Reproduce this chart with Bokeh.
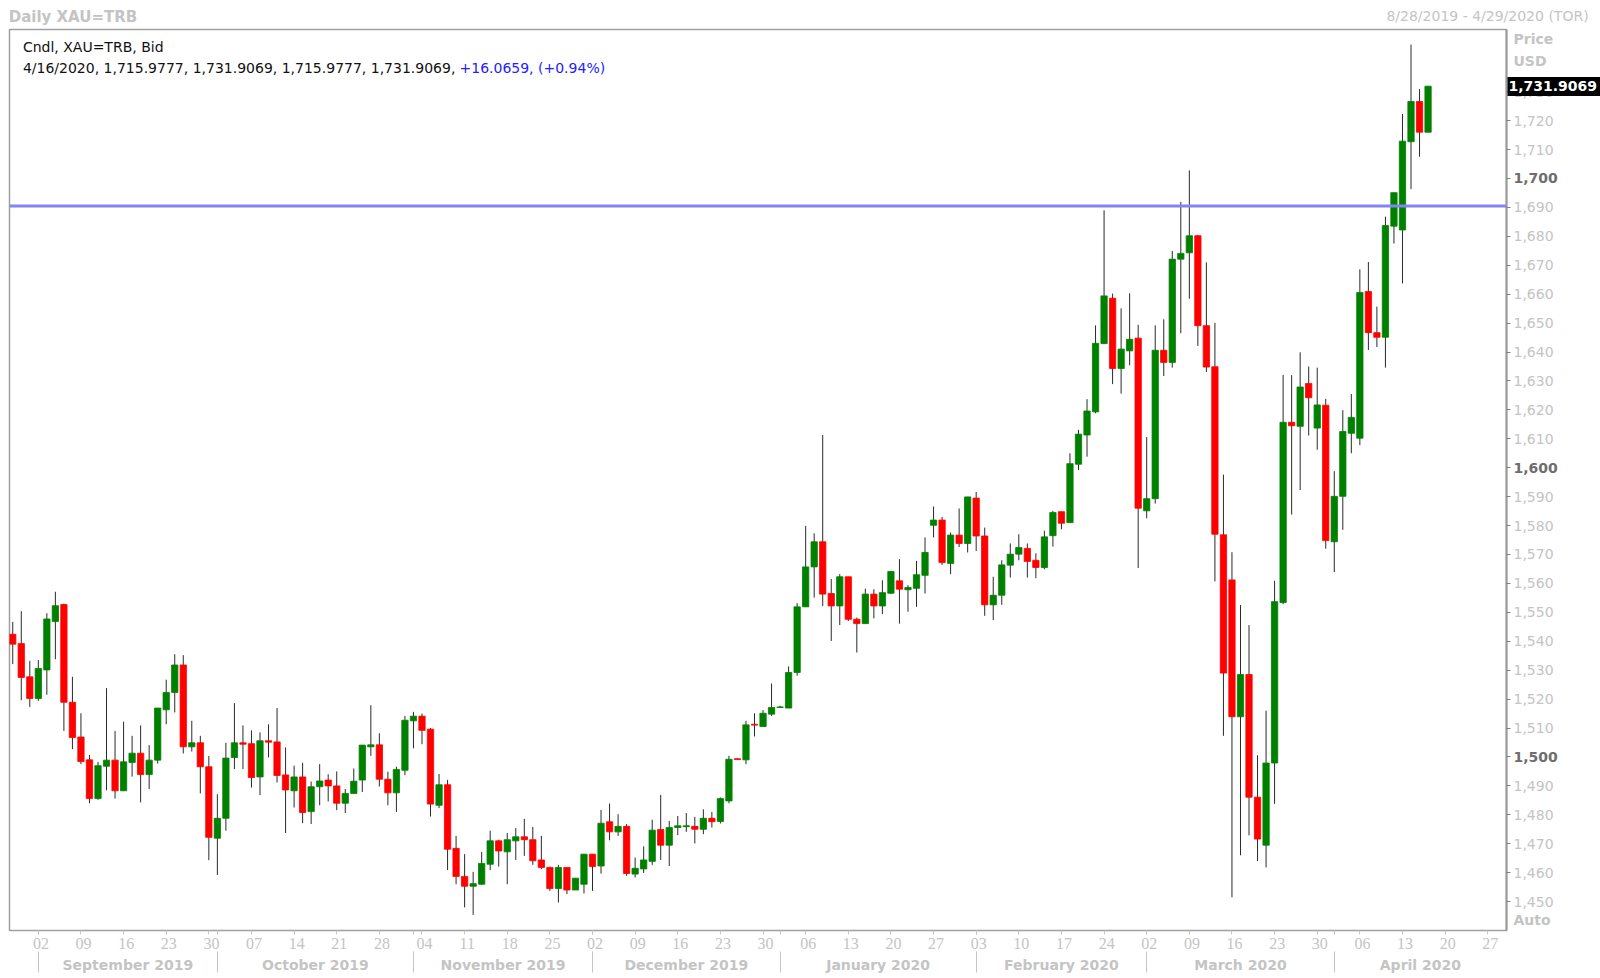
import pandas as pd
from bokeh.plotting import figure
from bokeh.models import ColumnDataSource, FixedTicker, LinearAxis, Range1d, Label, Span
from bokeh.embed import file_html
from bokeh.resources import INLINE

# ---------------- data ----------------
calendar_start = "2019-08-28"
calendar_end = "2020-04-29"

opens = [1542.4, 1539.2, 1527.7, 1520.2, 1530.1, 1546.8, 1552.7, 1518.9, 1506.9, 1499.0,
         1485.6, 1496.8, 1498.9, 1488.3, 1498.1, 1501.3, 1493.9, 1498.9, 1516.3, 1522.3,
         1531.8, 1503.5, 1504.9, 1496.6, 1471.9, 1478.8, 1499.8, 1504.9, 1504.6, 1493.1,
         1505.6, 1505.2, 1493.8, 1488.3, 1493.1, 1481.1, 1489.7, 1492.0, 1490.0, 1484.0,
         1487.4, 1492.0, 1503.5, 1504.2, 1492.3, 1487.6, 1495.4, 1512.5, 1514.1, 1509.6,
         1483.3, 1490.4, 1468.4, 1458.7, 1455.3, 1456.0, 1462.9, 1471.0, 1467.2, 1471.0,
         1472.4, 1471.4, 1464.4, 1461.8, 1454.5, 1461.8, 1454.0, 1456.0, 1466.4, 1462.3,
         1477.6, 1474.1, 1476.0, 1459.5, 1461.3, 1463.9, 1474.9, 1469.5, 1475.6, 1475.9,
         1476.0, 1475.0, 1478.8, 1477.7, 1484.8, 1499.4, 1499.0, 1511.3, 1510.5, 1514.8,
         1517.1, 1516.9, 1529.2, 1551.9, 1565.7, 1574.4, 1556.5, 1552.2, 1562.3, 1547.6,
         1546.1, 1556.3, 1552.2, 1556.6, 1560.9, 1557.8, 1558.3, 1562.8, 1580.1, 1581.9,
         1566.9, 1576.7, 1573.8, 1589.5, 1576.4, 1552.6, 1555.9, 1566.3, 1570.1, 1572.1,
         1568.0, 1565.5, 1576.5, 1584.8, 1581.0, 1601.2, 1611.3, 1619.3, 1642.9, 1658.6,
         1634.3, 1640.4, 1644.8, 1585.1, 1589.3, 1640.6, 1636.4, 1672.1, 1674.3, 1680.2,
         1649.1, 1634.9, 1576.8, 1561.2, 1513.9, 1528.5, 1486.1, 1469.5, 1497.9, 1553.4,
         1615.7, 1614.3, 1629.1, 1613.7, 1621.6, 1574.4, 1590.1, 1611.9, 1610.2, 1660.9,
         1646.7, 1645.1, 1683.5, 1682.2, 1712.7, 1726.6, 1715.9777]
highs = [1546.7, 1550.4, 1533.2, 1533.5, 1549.7, 1557.1, 1553.0, 1527.7, 1515.1, 1500.7,
         1498.3, 1523.8, 1509.0, 1512.2, 1507.3, 1510.9, 1504.1, 1516.9, 1526.7, 1535.5,
         1535.2, 1512.5, 1507.3, 1500.3, 1487.1, 1504.9, 1518.6, 1510.9, 1509.2, 1508.5,
         1511.3, 1516.9, 1503.3, 1497.0, 1498.0, 1491.5, 1497.5, 1494.0, 1495.0, 1488.9,
         1496.0, 1504.1, 1517.9, 1508.2, 1494.9, 1496.6, 1514.2, 1515.6, 1515.0, 1510.0,
         1494.1, 1492.1, 1472.7, 1466.4, 1460.3, 1467.2, 1474.5, 1471.4, 1473.7, 1475.4,
         1478.6, 1475.8, 1472.7, 1462.1, 1462.7, 1461.8, 1458.1, 1466.4, 1466.4, 1481.7,
         1483.9, 1480.2, 1476.8, 1465.2, 1469.1, 1478.3, 1486.9, 1477.9, 1479.6, 1480.6,
         1479.3, 1481.9, 1481.0, 1486.0, 1500.4, 1499.4, 1512.5, 1515.1, 1516.2, 1525.4,
         1517.7, 1531.3, 1553.2, 1579.9, 1577.3, 1611.3, 1561.5, 1563.2, 1562.3, 1548.2,
         1558.2, 1558.0, 1561.1, 1564.3, 1568.4, 1559.4, 1567.8, 1575.9, 1586.6, 1583.0,
         1577.6, 1585.9, 1589.9, 1591.6, 1579.3, 1562.3, 1568.0, 1573.8, 1577.0, 1573.8,
         1570.4, 1578.2, 1585.1, 1584.8, 1605.0, 1613.1, 1623.7, 1649.2, 1689.0, 1660.2,
         1655.1, 1660.3, 1649.4, 1610.6, 1649.2, 1651.3, 1674.9, 1691.9, 1702.8, 1680.5,
         1671.0, 1650.1, 1597.6, 1570.8, 1552.5, 1545.6, 1500.6, 1516.0, 1560.9, 1632.1,
         1632.0, 1639.9, 1635.0, 1634.6, 1623.8, 1598.8, 1619.9, 1625.5, 1668.6, 1671.1,
         1655.7, 1686.8, 1695.1, 1722.3, 1746.3, 1730.9, 1731.9069]
lows = [1532.1, 1519.6, 1517.3, 1519.4, 1521.5, 1533.8, 1509.0, 1502.7, 1497.5, 1484.0,
        1485.2, 1488.5, 1485.6, 1488.3, 1493.2, 1484.3, 1488.9, 1497.7, 1511.3, 1515.4,
        1501.2, 1501.9, 1487.4, 1464.3, 1459.2, 1474.5, 1495.8, 1495.8, 1489.4, 1486.8,
        1499.8, 1491.2, 1473.7, 1482.5, 1477.1, 1476.8, 1483.3, 1484.6, 1481.6, 1480.6,
        1487.4, 1487.9, 1500.4, 1489.8, 1483.3, 1481.0, 1493.7, 1503.0, 1504.4, 1479.4,
        1482.3, 1460.9, 1456.0, 1448.0, 1445.4, 1455.7, 1460.9, 1462.1, 1456.0, 1464.4,
        1465.8, 1462.7, 1461.2, 1453.7, 1449.7, 1452.6, 1454.0, 1452.8, 1453.7, 1459.7,
        1471.2, 1472.7, 1458.9, 1458.3, 1459.9, 1462.7, 1464.4, 1462.3, 1473.0, 1474.1,
        1470.1, 1473.3, 1475.6, 1477.0, 1484.0, 1499.1, 1497.5, 1507.1, 1510.5, 1514.2,
        1516.9, 1516.9, 1528.1, 1551.9, 1555.1, 1552.2, 1540.1, 1545.6, 1547.0, 1536.1,
        1546.1, 1547.9, 1549.4, 1556.3, 1546.1, 1550.2, 1551.9, 1556.5, 1575.9, 1566.4,
        1563.2, 1572.6, 1570.7, 1571.2, 1548.8, 1547.3, 1552.6, 1562.0, 1568.0, 1562.0,
        1561.8, 1564.9, 1572.7, 1578.7, 1581.0, 1599.2, 1603.8, 1618.8, 1642.9, 1628.9,
        1625.6, 1635.4, 1565.3, 1582.5, 1587.6, 1631.7, 1634.6, 1646.5, 1658.4, 1642.1,
        1633.1, 1560.7, 1507.3, 1451.5, 1466.0, 1472.9, 1464.0, 1461.8, 1483.8, 1552.8,
        1583.8, 1592.3, 1611.1, 1606.2, 1572.0, 1563.9, 1578.5, 1605.0, 1607.8, 1640.7,
        1641.7, 1634.6, 1677.5, 1663.7, 1696.3, 1707.5, 1715.9777]
closes = [1539.0, 1527.5, 1520.2, 1530.6, 1547.7, 1552.3, 1518.9, 1506.7, 1498.4, 1485.6,
          1497.0, 1498.9, 1488.3, 1498.3, 1501.3, 1493.9, 1498.9, 1516.9, 1522.3, 1531.8,
          1503.5, 1504.9, 1496.6, 1472.2, 1478.8, 1499.6, 1504.9, 1504.4, 1492.9, 1505.6,
          1505.1, 1493.6, 1488.6, 1493.1, 1480.8, 1489.7, 1491.7, 1490.0, 1484.0, 1487.4,
          1491.6, 1504.1, 1504.2, 1492.3, 1487.6, 1495.7, 1512.7, 1514.1, 1509.2, 1483.7,
          1490.4, 1468.1, 1458.7, 1455.3, 1456.2, 1463.2, 1471.0, 1467.5, 1471.4, 1472.4,
          1471.4, 1464.1, 1461.8, 1454.5, 1461.8, 1454.0, 1458.1, 1466.4, 1462.1, 1477.1,
          1474.1, 1476.0, 1459.7, 1461.5, 1464.4, 1474.7, 1469.5, 1475.6, 1476.2, 1476.2,
          1475.0, 1478.8, 1477.6, 1485.6, 1499.2, 1499.1, 1511.1, 1511.0, 1515.1, 1517.1,
          1517.3, 1529.2, 1551.9, 1565.7, 1574.4, 1556.3, 1552.2, 1562.3, 1547.6, 1546.1,
          1556.3, 1552.2, 1556.8, 1564.1, 1558.0, 1558.6, 1563.0, 1570.7, 1581.9, 1567.2,
          1576.7, 1573.8, 1589.9, 1576.4, 1552.6, 1555.9, 1566.4, 1570.1, 1572.4, 1567.6,
          1565.5, 1576.1, 1584.5, 1580.8, 1601.4, 1611.6, 1619.6, 1643.0, 1659.4, 1634.3,
          1641.0, 1644.4, 1586.0, 1589.3, 1640.6, 1636.4, 1672.1, 1674.1, 1680.2, 1649.1,
          1634.8, 1577.0, 1529.0, 1513.9, 1528.5, 1486.1, 1471.6, 1497.9, 1553.7, 1615.7,
          1614.5, 1627.9, 1624.2, 1621.7, 1574.8, 1590.1, 1612.5, 1617.4, 1660.6, 1646.7,
          1645.1, 1683.7, 1695.1, 1712.9, 1726.6, 1716.0, 1731.9069]

month_names = {9: "September 2019", 10: "October 2019", 11: "November 2019",
               12: "December 2019", 1: "January 2020", 2: "February 2020",
               3: "March 2020", 4: "April 2020"}
price_ticks = list(range(1450, 1740, 10))
bold_ticks = [1500, 1600, 1700]
resistance_level = 1690.5
last_price = 1731.9069

title_text = "Daily XAU=TRB"
range_text = "8/28/2019 - 4/29/2020 (TOR)"
side_texts = ["Price", "USD", "Auto"]
side_levels = [1748.3, 1740.5, 1443.6]
header_line1 = "Cndl, XAU=TRB, Bid"
header_values = "4/16/2020, 1,715.9777, 1,731.9069, 1,715.9777, 1,731.9069,"
header_change = "+16.0659, (+0.94%)"

# ---------------- layout constants ----------------
W, H = 1600, 978
BL, BR, BT, BB = 9, 93, 29, 48
FW, FH = W - BL - BR, H - BT - BB

LIGHT = "#c4c4c4"
MID = "#6e6e6e"
FONT = "DejaVu Sans"

days = pd.bdate_range(calendar_start, calendar_end)
x_start, x_end = -0.38, len(days) - 0.8
y_start, y_end = 1440, 1751.5
xs = list(range(len(opens)))
px_per_x = FW / (x_end - x_start)

mondays = [i for i, d in enumerate(days) if d.weekday() == 0]
label_shift = 0.3
day_label_pos = [round(m + label_shift, 3) for m in mondays]
day_labels = {pos: f"{days[m].day:02d}" for pos, m in zip(day_label_pos, mondays)}
month_starts = [i for i in range(1, len(days)) if days[i].month != days[i - 1].month]
month_centers = []
month_label_map = {}
for k, s in enumerate(month_starts):
    e = month_starts[k + 1] if k + 1 < len(month_starts) else x_end
    c = round((s + e) / 2.0, 3)
    month_centers.append(c)
    month_label_map[c] = month_names[days[s].month]

up = [c >= o for o, c in zip(opens, closes)]
src = ColumnDataSource(dict(
    x=xs,
    top=[max(o, c) for o, c in zip(opens, closes)],
    bottom=[min(o, c) for o, c in zip(opens, closes)],
    high=highs, low=lows,
    color=["#008000" if u else "#ff0000" for u in up],
))

p = figure(width=W, height=H, x_range=Range1d(x_start, x_end), y_range=Range1d(y_start, y_end),
           y_axis_location="right", output_backend="svg", toolbar_location=None,
           min_border_left=BL, min_border_right=BR, min_border_top=BT, min_border_bottom=BB,
           background_fill_color="white", border_fill_color="white")
p.grid.visible = False
p.outline_line_color = "#a0a0a0"
p.outline_line_width = 1.5

p.add_layout(Span(location=resistance_level, dimension="width", line_color="#8484f4", line_width=3))

p.segment(x0="x", y0="low", x1="x", y1="high", line_color="#2a2a2a", line_width=1, source=src)
p.vbar(x="x", width=0.74, top="top", bottom="bottom", fill_color="color",
       line_color="color", line_width=0.8, source=src)


def quiet(ax):
    ax.axis_line_color = None
    ax.major_tick_line_color = None
    ax.minor_tick_line_color = None
    ax.major_tick_in = 0
    ax.major_tick_out = 0
    ax.minor_tick_in = 0
    ax.minor_tick_out = 0
    return ax


def text_style(ax, color, size, bold):
    ax.major_label_text_color = color
    ax.major_label_text_font = FONT
    ax.major_label_text_font_size = size
    ax.major_label_text_font_style = "bold" if bold else "normal"


# --- right side: axes stacked outward; negative standoffs pull labels back next to the frame
MAIN_W = 50   # measured width of the main price axis
BOLD_W = 4    # measured width left by the bold-hundreds axis

ya = p.yaxis[0]
ya.ticker = FixedTicker(ticks=price_ticks, minor_ticks=[])
ya.major_label_overrides = {t: ("" if t in bold_ticks else f"{t:,}") for t in price_ticks}
text_style(ya, LIGHT, "14px", False)
ya.major_label_standoff = 3
ya.major_tick_out = 4
ya.major_tick_in = 0
ya.major_tick_line_color = "#808080"
ya.minor_tick_line_color = None
ya.axis_line_color = "#9a9a9a"
ya.axis_line_width = 2

# "Price", "USD", "Auto"
yu = quiet(LinearAxis(ticker=FixedTicker(ticks=side_levels, minor_ticks=[]),
                      major_label_overrides=dict(zip(side_levels, side_texts))))
text_style(yu, LIGHT, "14px", True)
yu.major_label_standoff = 7 - MAIN_W
p.add_layout(yu, "right")

# bold hundreds
yb = quiet(LinearAxis(ticker=FixedTicker(ticks=bold_ticks, minor_ticks=[]),
                      major_label_overrides={t: f"{t:,}" for t in bold_ticks}))
text_style(yb, MID, "14px", True)
yb.major_label_standoff = 7 - MAIN_W
p.add_layout(yb, "right")

# last price box: thick black tick, white bold text on it
S_LAST = MAIN_W + BOLD_W
yl = quiet(LinearAxis(ticker=FixedTicker(ticks=[last_price], minor_ticks=[]),
                      major_label_overrides={last_price: f"{last_price:,.4f}"}))
yl.major_tick_line_color = "black"
yl.major_tick_line_width = 19
yl.major_tick_line_cap = "butt"
yl.major_tick_in = S_LAST - 1
yl.major_tick_out = 45
yl.major_label_standoff = 2 - S_LAST - 45
text_style(yl, "white", "14px", True)
p.add_layout(yl, "right")

# --- x axis: day numbers (tick marks at the Mondays, labels a touch to the right)
xa = p.xaxis[0]
xa.ticker = FixedTicker(ticks=day_label_pos, minor_ticks=mondays + month_starts)
xa.major_label_overrides = day_labels
xa.major_label_text_color = LIGHT
xa.major_label_text_font = "Liberation Sans Narrow"
xa.major_label_text_font_size = "16px"
xa.major_label_standoff = 3
xa.major_tick_out = 4
xa.major_tick_in = 0
xa.minor_tick_out = 4
xa.minor_tick_in = 0
xa.major_tick_line_color = None
xa.minor_tick_line_color = LIGHT
xa.axis_line_color = None

# --- x axis: month names with separators
ma = LinearAxis(ticker=FixedTicker(ticks=month_centers, minor_ticks=month_starts),
                major_label_overrides=month_label_map)
text_style(ma, LIGHT, "14px", True)
ma.major_label_standoff = -16
ma.major_tick_line_color = None
ma.major_tick_out = 0
ma.major_tick_in = 0
ma.minor_tick_out = 21
ma.minor_tick_in = 0
ma.minor_tick_line_color = LIGHT
ma.axis_line_color = None
p.add_layout(ma, "below")

# --- top row: range text then title (stacked above the frame)
title_x = round(x_start + (72.5 - BL) / px_per_x, 3)
range_x = round(x_start + (1488.0 - BL) / px_per_x, 3)
ra = quiet(LinearAxis(ticker=FixedTicker(ticks=[range_x], minor_ticks=[]),
                      major_label_overrides={range_x: range_text}))
text_style(ra, LIGHT, "14px", False)
ra.major_label_standoff = 6
p.add_layout(ra, "above")
ta = quiet(LinearAxis(ticker=FixedTicker(ticks=[title_x], minor_ticks=[]),
                      major_label_overrides={title_x: title_text}))
text_style(ta, LIGHT, "15px", True)
ta.major_label_standoff = -21
p.add_layout(ta, "above")

# --- header inside the frame
p.add_layout(Label(x=13.4, y=FH - 17, x_units="screen", y_units="screen", text=header_line1,
                   text_font=FONT, text_font_size="14px", text_color="#111111",
                   text_baseline="middle"))
p.add_layout(Label(x=13.4, y=FH - 38, x_units="screen", y_units="screen", text=header_values,
                   text_font=FONT, text_font_size="14px", text_color="#111111",
                   text_baseline="middle"))
p.add_layout(Label(x=450, y=FH - 38, x_units="screen", y_units="screen", text=header_change,
                   text_font=FONT, text_font_size="14px", text_color="#2222ff",
                   text_baseline="middle"))

open("out.html", "w").write(file_html(p, INLINE))
